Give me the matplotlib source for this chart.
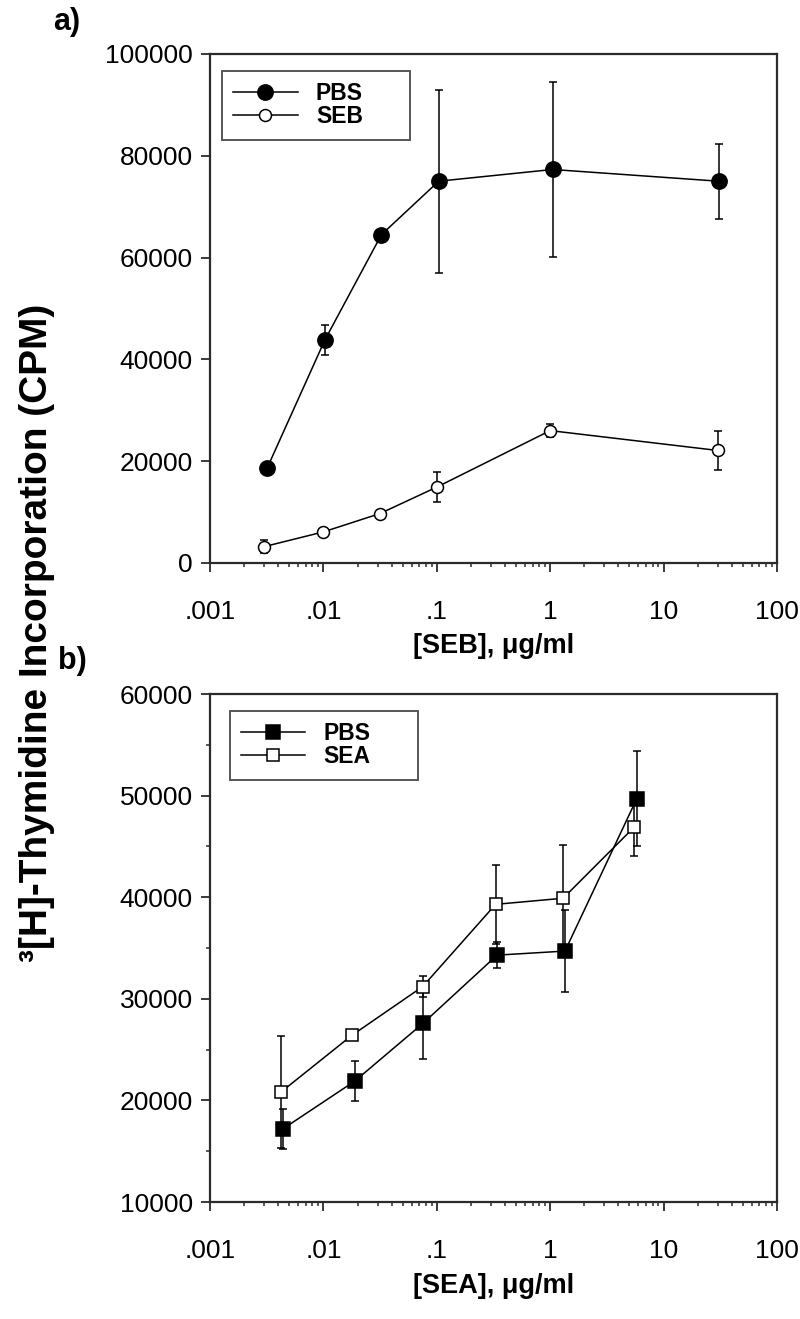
import numpy as np
import matplotlib
matplotlib.use("Agg")
import matplotlib.pyplot as plt
from matplotlib.ticker import LogLocator, FixedLocator, NullFormatter, NullLocator

plt.rcParams["font.family"] = ["Liberation Sans", "DejaVu Sans"]

# panel a) SEB dose response
seb_x_pbs = [0.0032, 0.0103, 0.0325, 0.104, 1.05, 30.5]
seb_y_pbs = [18700, 43800, 64500, 75000, 77300, 75000]
seb_e_pbs = [0, 3000, 0, 18000, 17200, 7400]

seb_x_seb = [0.0030, 0.0100, 0.0315, 0.100, 1.0, 30.0]
seb_y_seb = [3200, 6100, 9700, 14900, 26000, 22100]
seb_e_seb = [1300, 0, 0, 2900, 1300, 3800]

# panel b) SEA dose response
sea_x_pbs = [0.0044, 0.0189, 0.0758, 0.34, 1.35, 5.8]
sea_y_pbs = [17200, 21900, 27600, 34300, 34700, 49700]
sea_e_pbs = [2000, 2000, 3500, 1300, 4000, 4700]

sea_x_sea = [0.0042, 0.0178, 0.075, 0.33, 1.30, 5.5]
sea_y_sea = [20800, 26400, 31200, 39300, 39900, 46900]
sea_e_sea = [5500, 500, 1000, 3900, 5200, 2800]

x_ticks = [0.001, 0.01, 0.1, 1, 10, 100]
x_tick_labels = [".001", ".01", ".1", "1", "10", "100"]
a_yticks = [0, 20000, 40000, 60000, 80000, 100000]
b_yticks = [10000, 20000, 30000, 40000, 50000, 60000]

spine_col = "#2b2b2b"

fig = plt.figure(figsize=(8, 13.19), dpi=100)
ax_a = fig.add_axes([0.2625, 0.5732, 0.70875, 0.3859])
ax_b = fig.add_axes([0.2625, 0.0887, 0.70875, 0.3851])


def series(ax, x, y, e, marker, ms, filled, label):
    ax.errorbar(x, y, yerr=e, fmt="none", ecolor="black", elinewidth=1.1,
                capsize=3, capthick=1.1, zorder=2)
    line, = ax.plot(x, y, "-", color="black", lw=1.1, marker=marker, ms=ms,
                    mfc="black" if filled else "white", mec="black",
                    mew=1.1, label=label, zorder=3, clip_on=False)
    return line


def style_axis(ax, yticks, ylim, yminor):
    ax.set_xscale("log")
    ax.set_xlim(0.001, 100)
    ax.set_ylim(*ylim)
    ax.xaxis.set_major_locator(FixedLocator(x_ticks))
    ax.set_xticklabels(x_tick_labels)
    ax.xaxis.set_minor_locator(LogLocator(base=10, subs=np.arange(2, 10)))
    ax.xaxis.set_minor_formatter(NullFormatter())
    ax.set_yticks(yticks)
    ax.set_yticklabels([str(v) for v in yticks])
    if yminor:
        ax.yaxis.set_minor_locator(FixedLocator(yminor))
    else:
        ax.yaxis.set_minor_locator(NullLocator())
    for s in ax.spines.values():
        s.set_linewidth(1.6)
        s.set_color(spine_col)
    ax.tick_params(axis="both", which="major", direction="out", length=6.5,
                   width=1.3, color=spine_col, labelsize=19)
    ax.tick_params(axis="x", which="major", pad=20)
    ax.tick_params(axis="y", which="major", pad=6)
    ax.tick_params(axis="both", which="minor", direction="out", length=3,
                   width=1.1, color=spine_col)
    ax.tick_params(top=False, right=False, which="both")


h1 = series(ax_a, seb_x_pbs, seb_y_pbs, seb_e_pbs, "o", 11, True, "PBS")
h2 = series(ax_a, seb_x_seb, seb_y_seb, seb_e_seb, "o", 8.6, False, "SEB")
style_axis(ax_a, a_yticks, (0, 100000), None)
ax_a.set_xlabel("[SEB], μg/ml", fontsize=19.5, fontweight="bold", labelpad=7)

h3 = series(ax_b, sea_x_pbs, sea_y_pbs, sea_e_pbs, "s", 10, True, "PBS")
h4 = series(ax_b, sea_x_sea, sea_y_sea, sea_e_sea, "s", 8, False, "SEA")
style_axis(ax_b, b_yticks, (10000, 60000), [15000, 25000, 35000, 45000, 55000])
ax_b.set_xlabel("[SEA], μg/ml", fontsize=19.5, fontweight="bold", labelpad=7)

for ax, handles, x0 in [(ax_a, [h1, h2], 0.021), (ax_b, [h3, h4], 0.035)]:
    leg = ax.legend(handles=handles, loc="upper left",
                    bbox_to_anchor=(x0, 0.967, 0.332, 0.0), mode="expand",
                    borderaxespad=0, frameon=True, fancybox=False,
                    handlelength=2.8, handletextpad=0.8, labelspacing=0.0,
                    borderpad=0.5, prop={"weight": "bold", "size": 16.5})
    leg.get_frame().set_edgecolor(spine_col)
    leg.get_frame().set_linewidth(1.4)

fig.text(0.046, 0.52, "³[H]-Thymidine Incorporation (CPM)", rotation=90,
         ha="center", va="center", fontsize=28, fontweight="bold")
fig.text(0.083, 0.983, "a)", ha="center", va="center", fontsize=22,
         fontweight="bold")
fig.text(0.09, 0.499, "b)", ha="center", va="center", fontsize=22,
         fontweight="bold")

fig.savefig("out.png", dpi=100)
